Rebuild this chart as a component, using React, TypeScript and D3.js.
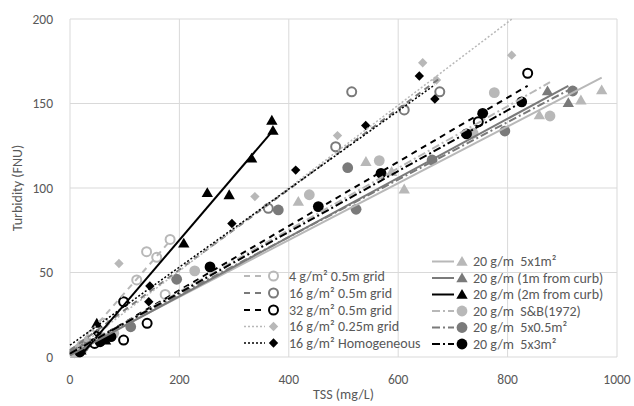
import React from "react";
import * as d3 from "d3";

// ---------- data ----------
const seriesNames = [
  "4 g/m² 0.5m grid",
  "16 g/m² 0.5m grid",
  "32 g/m² 0.5m grid",
  "16 g/m² 0.25m grid",
  "16 g/m² Homogeneous",
  "20 g/m  5x1m²",
  "20 g/m (1m from curb)",
  "20 g/m (2m from curb)",
  "20 g/m  S&B(1972)",
  "20 g/m  5x0.5m²",
  "20 g/m  5x3m²",
];

const s4g05: [number, number][] = [[8, 3], [22, 7], [40, 13], [62, 20], [122, 45.6], [140, 62.3], [158.5, 59], [174, 37], [183, 69.6]];
const s16g05: [number, number][] = [[10, 3], [30, 8], [362.5, 88], [485.7, 124.4], [515, 156.9], [611, 146.2], [676, 156.9]];
const s32g05: [number, number][] = [[15, 4], [45, 8], [98, 10], [98, 32.7], [141, 19.9], [746.4, 139.2], [836.7, 167.9]];
const s16g025: [number, number][] = [[12, 5], [30, 9], [89.5, 55.3], [338, 94.9], [489, 131], [644.8, 174.1], [670, 163.9], [807.5, 178.6]];
const s16hom: [number, number][] = [[8, 2], [50, 14], [144, 32.7], [146, 42], [296, 79], [412.6, 110.6], [540.6, 137], [638.6, 166.3], [667, 152.7]];
const s5x1: [number, number][] = [[10, 2], [60, 12], [417.4, 92], [541, 115.6], [588, 109.7], [611, 99.3], [858, 143.2], [934, 152], [972, 158]];
const s1m: [number, number][] = [[20, 5], [70, 12], [873, 157.4], [911, 150.4]];
const s2m: [number, number][] = [[20, 4], [49, 19.9], [65, 10], [208, 67.3], [251, 97.2], [291, 95.9], [332, 117.6], [369, 140], [371, 134]];
const sSB: [number, number][] = [[15, 4], [80, 14], [228, 51], [437.5, 96], [565.4, 116.2], [737, 132.4], [775.7, 156.4], [877.5, 142.6]];
const s05: [number, number][] = [[25, 6], [111, 17.9], [195, 46], [380.8, 87], [507.7, 112], [523, 87.4], [662, 116.6], [795, 133.7], [919, 157.4]];
const s3: [number, number][] = [[18, 3], [55, 9], [75, 12], [256, 53.3], [454, 89], [568.6, 108.7], [725, 132], [754.5, 144.2], [825.8, 151]];

// linear trendline parameters: [slope, intercept, xStart, xEnd]
const trendSlopes = [0.37, 0.238, 0.19, 0.245, 0.231, 0.168, 0.175, 0.379, 0.183, 0.17, 0.18];
const trendIntercepts = [1, 4, 1.5, 2, 7, 2, 1, -6.6, 2, 3, 2];
const trendStarts = [0, 0, 0, 0, 0, 0, 0, 20, 0, 0, 0];
const trendEnds = [183, 676, 836.7, 807.5, 667, 972, 911, 371, 877.5, 919, 825.8];

const xTicks = [0, 200, 400, 600, 800, 1000];
const yTicks = [0, 50, 100, 150, 200];

// ---------- styles ----------
const LIGHT = "#b8b8b8";
const MID = "#7a7a7a";
const DARK = "#000000";
type Sty = { color: string; marker: "circle" | "ocircle" | "diamond" | "triangle"; dash: string; width: number };
const styles: Sty[] = [
  { color: LIGHT, marker: "ocircle", dash: "6,5", width: 2 },
  { color: MID, marker: "ocircle", dash: "6,5", width: 2 },
  { color: DARK, marker: "ocircle", dash: "6,5", width: 2 },
  { color: LIGHT, marker: "diamond", dash: "2,2", width: 1.5 },
  { color: DARK, marker: "diamond", dash: "2,2", width: 1.5 },
  { color: LIGHT, marker: "triangle", dash: "", width: 2 },
  { color: MID, marker: "triangle", dash: "", width: 2 },
  { color: DARK, marker: "triangle", dash: "", width: 2 },
  { color: LIGHT, marker: "circle", dash: "8,3,2,3", width: 2 },
  { color: MID, marker: "circle", dash: "8,3,2,3", width: 2 },
  { color: DARK, marker: "circle", dash: "8,3,2,3", width: 2 },
];
const allSeries = [s4g05, s16g05, s32g05, s16g025, s16hom, s5x1, s1m, s2m, sSB, s05, s3];

const FONT = "Carlito, Calibri, Lato, 'Open Sans', sans-serif";

const x = d3.scaleLinear().domain([0, 1000]).range([70, 617]);
const y = d3.scaleLinear().domain([0, 200]).range([357, 19]);

const triPath = d3.symbol().type(d3.symbolTriangle).size(56)()!;
const diaPath = d3.symbol().type(d3.symbolSquare).size(44)()!;

function Marker({ s, cx, cy }: { s: Sty; cx: number; cy: number }) {
  if (s.marker === "ocircle")
    return <circle cx={cx} cy={cy} r={4.5} fill="none" stroke={s.color} strokeWidth={2} />;
  if (s.marker === "circle") return <circle cx={cx} cy={cy} r={5.4} fill={s.color} />;
  if (s.marker === "diamond")
    return <path d={diaPath} transform={`translate(${cx},${cy}) rotate(45)`} fill={s.color} />;
  return <path d={triPath} transform={`translate(${cx},${cy + 1})`} fill={s.color} />;
}

export default function App() {
  const line = d3.line<[number, number]>().x((d) => x(d[0])).y((d) => y(d[1]));
  const legendLeft = [0, 1, 2, 3, 4];
  const legendRight = [5, 6, 7, 8, 9, 10];
  const leftRows = [276, 293, 310, 326.5, 343];
  const rightRows = [261.5, 278, 294.5, 311, 327.5, 344];
  return (
    <svg width={634} height={406} style={{ position: "absolute", left: 0, top: 0, background: "#fff" }} fontFamily={FONT}>
      <rect width={634} height={406} fill="#fff" />
      {/* grid */}
      {xTicks.map((t) => (
        <line key={"gx" + t} x1={x(t)} x2={x(t)} y1={y(0)} y2={y(200)} stroke="#d9d9d9" strokeWidth={1} />
      ))}
      {yTicks.map((t) => (
        <line key={"gy" + t} x1={x(0)} x2={x(1000)} y1={y(t)} y2={y(t)} stroke="#d9d9d9" strokeWidth={1} />
      ))}
      {/* tick labels */}
      {xTicks.map((t) => (
        <text key={"tx" + t} x={x(t)} y={384} textAnchor="middle" fontSize={13.5} fill="#595959">
          {t}
        </text>
      ))}
      {yTicks.map((t) => (
        <text key={"ty" + t} x={53} y={y(t) + 4.5} textAnchor="end" fontSize={13.5} fill="#595959">
          {t}
        </text>
      ))}
      <text x={343.5} y={399} textAnchor="middle" fontSize={14} fill="#595959">
        TSS (mg/L)
      </text>
      <text transform={`translate(22,188) rotate(-90)`} textAnchor="middle" fontSize={14} fill="#595959">
        Turbidity (FNU)
      </text>
      {/* markers */}
      {allSeries.map((ser, i) =>
        ser.map((d, j) => <Marker key={`m${i}-${j}`} s={styles[i]} cx={x(d[0])} cy={y(d[1])} />)
      )}
      {/* trendlines */}
      {allSeries.map((_, i) => {
        const a = trendStarts[i];
        const b = trendEnds[i];
        const pts: [number, number][] = [
          [a, trendSlopes[i] * a + trendIntercepts[i]],
          [b, trendSlopes[i] * b + trendIntercepts[i]],
        ];
        return (
          <path
            key={"t" + i}
            d={line(pts)!}
            fill="none"
            stroke={styles[i].color}
            strokeWidth={styles[i].width}
            strokeDasharray={styles[i].dash || undefined}
          />
        );
      })}
      {/* legend */}
      {legendLeft.map((i, k) => (
        <g key={"ll" + i}>
          <line x1={244} x2={265} y1={leftRows[k]} y2={leftRows[k]} stroke={styles[i].color} strokeWidth={styles[i].width} strokeDasharray={styles[i].dash || undefined} />
          <Marker s={styles[i]} cx={273.5} cy={leftRows[k]} />
          <text x={289} y={leftRows[k] + 4.8} fontSize={14} fill="#595959">
            {seriesNames[i]}
          </text>
        </g>
      ))}
      {legendRight.map((i, k) => (
        <g key={"lr" + i}>
          <line x1={432} x2={454} y1={rightRows[k]} y2={rightRows[k]} stroke={styles[i].color} strokeWidth={styles[i].width} strokeDasharray={styles[i].dash || undefined} />
          <Marker s={styles[i]} cx={462} cy={rightRows[k]} />
          <text x={473} y={rightRows[k] + 4.8} fontSize={14} fill="#595959" style={{ whiteSpace: "pre" }}>
            {seriesNames[i]}
          </text>
        </g>
      ))}
    </svg>
  );
}
